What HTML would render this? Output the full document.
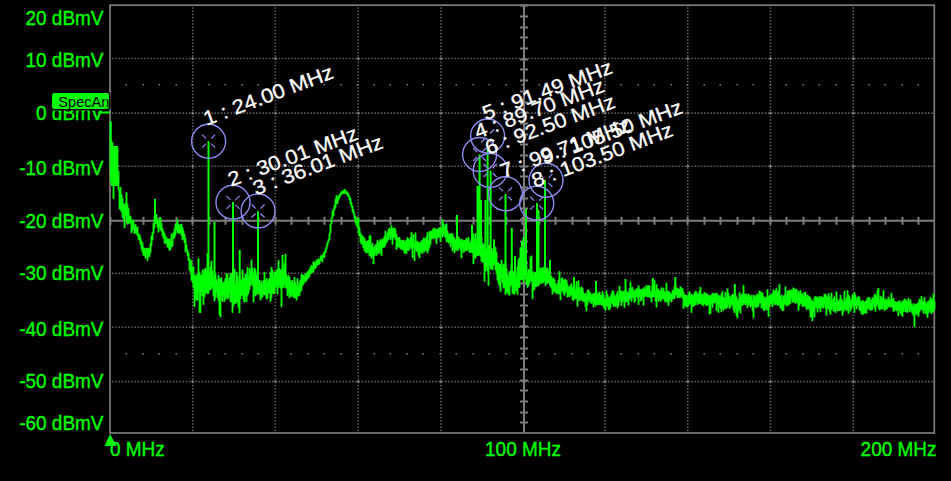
<!DOCTYPE html>
<html><head><meta charset="utf-8"><style>
html,body{margin:0;padding:0;background:#000;width:951px;height:481px;overflow:hidden}
svg{display:block}
text{font-family:"Liberation Sans",sans-serif}
</style></head><body>
<svg width="951" height="481" viewBox="0 0 951 481">
<rect width="951" height="481" fill="#000"/>
<g>
<line x1="192.7" y1="7.2" x2="192.7" y2="432" stroke="#585858" stroke-width="1.6" stroke-dasharray="1.6 1.6"/>
<line x1="275.4" y1="7.2" x2="275.4" y2="432" stroke="#585858" stroke-width="1.6" stroke-dasharray="1.6 1.6"/>
<line x1="358.2" y1="7.2" x2="358.2" y2="432" stroke="#585858" stroke-width="1.6" stroke-dasharray="1.6 1.6"/>
<line x1="440.9" y1="7.2" x2="440.9" y2="432" stroke="#585858" stroke-width="1.6" stroke-dasharray="1.6 1.6"/>
<line x1="604.9" y1="7.2" x2="604.9" y2="432" stroke="#585858" stroke-width="1.6" stroke-dasharray="1.6 1.6"/>
<line x1="687.8" y1="7.2" x2="687.8" y2="432" stroke="#585858" stroke-width="1.6" stroke-dasharray="1.6 1.6"/>
<line x1="770.4" y1="7.2" x2="770.4" y2="432" stroke="#585858" stroke-width="1.6" stroke-dasharray="1.6 1.6"/>
<line x1="853.3" y1="7.2" x2="853.3" y2="432" stroke="#585858" stroke-width="1.6" stroke-dasharray="1.6 1.6"/>
<line x1="112" y1="58.5" x2="933.3" y2="58.5" stroke="#585858" stroke-width="1.6" stroke-dasharray="1.6 1.6"/>
<line x1="112" y1="113.1" x2="933.3" y2="113.1" stroke="#585858" stroke-width="1.6" stroke-dasharray="1.6 1.6"/>
<line x1="112" y1="166.3" x2="933.3" y2="166.3" stroke="#585858" stroke-width="1.6" stroke-dasharray="1.6 1.6"/>
<line x1="112" y1="273.4" x2="933.3" y2="273.4" stroke="#585858" stroke-width="1.6" stroke-dasharray="1.6 1.6"/>
<line x1="112" y1="327.3" x2="933.3" y2="327.3" stroke="#585858" stroke-width="1.6" stroke-dasharray="1.6 1.6"/>
<line x1="112" y1="381.6" x2="933.3" y2="381.6" stroke="#585858" stroke-width="1.6" stroke-dasharray="1.6 1.6"/>
<rect x="191.2" y="58.0" width="3" height="1" fill="#808080"/><rect x="192.2" y="57.0" width="1" height="3" fill="#808080"/>
<rect x="191.2" y="112.6" width="3" height="1" fill="#808080"/><rect x="192.2" y="111.6" width="1" height="3" fill="#808080"/>
<rect x="191.2" y="165.8" width="3" height="1" fill="#808080"/><rect x="192.2" y="164.8" width="1" height="3" fill="#808080"/>
<rect x="191.2" y="272.9" width="3" height="1" fill="#808080"/><rect x="192.2" y="271.9" width="1" height="3" fill="#808080"/>
<rect x="191.2" y="326.8" width="3" height="1" fill="#808080"/><rect x="192.2" y="325.8" width="1" height="3" fill="#808080"/>
<rect x="191.2" y="381.1" width="3" height="1" fill="#808080"/><rect x="192.2" y="380.1" width="1" height="3" fill="#808080"/>
<rect x="191.2" y="220.3" width="3" height="1" fill="#808080"/><rect x="192.2" y="219.3" width="1" height="3" fill="#808080"/>
<rect x="273.9" y="58.0" width="3" height="1" fill="#808080"/><rect x="274.9" y="57.0" width="1" height="3" fill="#808080"/>
<rect x="273.9" y="112.6" width="3" height="1" fill="#808080"/><rect x="274.9" y="111.6" width="1" height="3" fill="#808080"/>
<rect x="273.9" y="165.8" width="3" height="1" fill="#808080"/><rect x="274.9" y="164.8" width="1" height="3" fill="#808080"/>
<rect x="273.9" y="272.9" width="3" height="1" fill="#808080"/><rect x="274.9" y="271.9" width="1" height="3" fill="#808080"/>
<rect x="273.9" y="326.8" width="3" height="1" fill="#808080"/><rect x="274.9" y="325.8" width="1" height="3" fill="#808080"/>
<rect x="273.9" y="381.1" width="3" height="1" fill="#808080"/><rect x="274.9" y="380.1" width="1" height="3" fill="#808080"/>
<rect x="273.9" y="220.3" width="3" height="1" fill="#808080"/><rect x="274.9" y="219.3" width="1" height="3" fill="#808080"/>
<rect x="356.7" y="58.0" width="3" height="1" fill="#808080"/><rect x="357.7" y="57.0" width="1" height="3" fill="#808080"/>
<rect x="356.7" y="112.6" width="3" height="1" fill="#808080"/><rect x="357.7" y="111.6" width="1" height="3" fill="#808080"/>
<rect x="356.7" y="165.8" width="3" height="1" fill="#808080"/><rect x="357.7" y="164.8" width="1" height="3" fill="#808080"/>
<rect x="356.7" y="272.9" width="3" height="1" fill="#808080"/><rect x="357.7" y="271.9" width="1" height="3" fill="#808080"/>
<rect x="356.7" y="326.8" width="3" height="1" fill="#808080"/><rect x="357.7" y="325.8" width="1" height="3" fill="#808080"/>
<rect x="356.7" y="381.1" width="3" height="1" fill="#808080"/><rect x="357.7" y="380.1" width="1" height="3" fill="#808080"/>
<rect x="356.7" y="220.3" width="3" height="1" fill="#808080"/><rect x="357.7" y="219.3" width="1" height="3" fill="#808080"/>
<rect x="439.4" y="58.0" width="3" height="1" fill="#808080"/><rect x="440.4" y="57.0" width="1" height="3" fill="#808080"/>
<rect x="439.4" y="112.6" width="3" height="1" fill="#808080"/><rect x="440.4" y="111.6" width="1" height="3" fill="#808080"/>
<rect x="439.4" y="165.8" width="3" height="1" fill="#808080"/><rect x="440.4" y="164.8" width="1" height="3" fill="#808080"/>
<rect x="439.4" y="272.9" width="3" height="1" fill="#808080"/><rect x="440.4" y="271.9" width="1" height="3" fill="#808080"/>
<rect x="439.4" y="326.8" width="3" height="1" fill="#808080"/><rect x="440.4" y="325.8" width="1" height="3" fill="#808080"/>
<rect x="439.4" y="381.1" width="3" height="1" fill="#808080"/><rect x="440.4" y="380.1" width="1" height="3" fill="#808080"/>
<rect x="439.4" y="220.3" width="3" height="1" fill="#808080"/><rect x="440.4" y="219.3" width="1" height="3" fill="#808080"/>
<rect x="603.4" y="58.0" width="3" height="1" fill="#808080"/><rect x="604.4" y="57.0" width="1" height="3" fill="#808080"/>
<rect x="603.4" y="112.6" width="3" height="1" fill="#808080"/><rect x="604.4" y="111.6" width="1" height="3" fill="#808080"/>
<rect x="603.4" y="165.8" width="3" height="1" fill="#808080"/><rect x="604.4" y="164.8" width="1" height="3" fill="#808080"/>
<rect x="603.4" y="272.9" width="3" height="1" fill="#808080"/><rect x="604.4" y="271.9" width="1" height="3" fill="#808080"/>
<rect x="603.4" y="326.8" width="3" height="1" fill="#808080"/><rect x="604.4" y="325.8" width="1" height="3" fill="#808080"/>
<rect x="603.4" y="381.1" width="3" height="1" fill="#808080"/><rect x="604.4" y="380.1" width="1" height="3" fill="#808080"/>
<rect x="603.4" y="220.3" width="3" height="1" fill="#808080"/><rect x="604.4" y="219.3" width="1" height="3" fill="#808080"/>
<rect x="686.3" y="58.0" width="3" height="1" fill="#808080"/><rect x="687.3" y="57.0" width="1" height="3" fill="#808080"/>
<rect x="686.3" y="112.6" width="3" height="1" fill="#808080"/><rect x="687.3" y="111.6" width="1" height="3" fill="#808080"/>
<rect x="686.3" y="165.8" width="3" height="1" fill="#808080"/><rect x="687.3" y="164.8" width="1" height="3" fill="#808080"/>
<rect x="686.3" y="272.9" width="3" height="1" fill="#808080"/><rect x="687.3" y="271.9" width="1" height="3" fill="#808080"/>
<rect x="686.3" y="326.8" width="3" height="1" fill="#808080"/><rect x="687.3" y="325.8" width="1" height="3" fill="#808080"/>
<rect x="686.3" y="381.1" width="3" height="1" fill="#808080"/><rect x="687.3" y="380.1" width="1" height="3" fill="#808080"/>
<rect x="686.3" y="220.3" width="3" height="1" fill="#808080"/><rect x="687.3" y="219.3" width="1" height="3" fill="#808080"/>
<rect x="768.9" y="58.0" width="3" height="1" fill="#808080"/><rect x="769.9" y="57.0" width="1" height="3" fill="#808080"/>
<rect x="768.9" y="112.6" width="3" height="1" fill="#808080"/><rect x="769.9" y="111.6" width="1" height="3" fill="#808080"/>
<rect x="768.9" y="165.8" width="3" height="1" fill="#808080"/><rect x="769.9" y="164.8" width="1" height="3" fill="#808080"/>
<rect x="768.9" y="272.9" width="3" height="1" fill="#808080"/><rect x="769.9" y="271.9" width="1" height="3" fill="#808080"/>
<rect x="768.9" y="326.8" width="3" height="1" fill="#808080"/><rect x="769.9" y="325.8" width="1" height="3" fill="#808080"/>
<rect x="768.9" y="381.1" width="3" height="1" fill="#808080"/><rect x="769.9" y="380.1" width="1" height="3" fill="#808080"/>
<rect x="768.9" y="220.3" width="3" height="1" fill="#808080"/><rect x="769.9" y="219.3" width="1" height="3" fill="#808080"/>
<rect x="851.8" y="58.0" width="3" height="1" fill="#808080"/><rect x="852.8" y="57.0" width="1" height="3" fill="#808080"/>
<rect x="851.8" y="112.6" width="3" height="1" fill="#808080"/><rect x="852.8" y="111.6" width="1" height="3" fill="#808080"/>
<rect x="851.8" y="165.8" width="3" height="1" fill="#808080"/><rect x="852.8" y="164.8" width="1" height="3" fill="#808080"/>
<rect x="851.8" y="272.9" width="3" height="1" fill="#808080"/><rect x="852.8" y="271.9" width="1" height="3" fill="#808080"/>
<rect x="851.8" y="326.8" width="3" height="1" fill="#808080"/><rect x="852.8" y="325.8" width="1" height="3" fill="#808080"/>
<rect x="851.8" y="381.1" width="3" height="1" fill="#808080"/><rect x="852.8" y="380.1" width="1" height="3" fill="#808080"/>
<rect x="851.8" y="220.3" width="3" height="1" fill="#808080"/><rect x="852.8" y="219.3" width="1" height="3" fill="#808080"/>
<rect x="522.5" y="58.0" width="3" height="1" fill="#808080"/><rect x="523.5" y="57.0" width="1" height="3" fill="#808080"/>
<rect x="522.5" y="112.6" width="3" height="1" fill="#808080"/><rect x="523.5" y="111.6" width="1" height="3" fill="#808080"/>
<rect x="522.5" y="165.8" width="3" height="1" fill="#808080"/><rect x="523.5" y="164.8" width="1" height="3" fill="#808080"/>
<rect x="522.5" y="272.9" width="3" height="1" fill="#808080"/><rect x="523.5" y="271.9" width="1" height="3" fill="#808080"/>
<rect x="522.5" y="326.8" width="3" height="1" fill="#808080"/><rect x="523.5" y="325.8" width="1" height="3" fill="#808080"/>
<rect x="522.5" y="381.1" width="3" height="1" fill="#808080"/><rect x="523.5" y="380.1" width="1" height="3" fill="#808080"/>
<rect x="522.5" y="220.3" width="3" height="1" fill="#808080"/><rect x="523.5" y="219.3" width="1" height="3" fill="#808080"/>
<rect x="125.5" y="84.0" width="1.5" height="1.5" fill="#808080"/>
<rect x="142.5" y="84.0" width="1.5" height="1.5" fill="#808080"/>
<rect x="158.5" y="84.0" width="1.5" height="1.5" fill="#808080"/>
<rect x="175.5" y="84.0" width="1.5" height="1.5" fill="#808080"/>
<rect x="191.5" y="84.0" width="1.5" height="1.5" fill="#808080"/>
<rect x="208.5" y="84.0" width="1.5" height="1.5" fill="#808080"/>
<rect x="224.5" y="84.0" width="1.5" height="1.5" fill="#808080"/>
<rect x="241.5" y="84.0" width="1.5" height="1.5" fill="#808080"/>
<rect x="257.5" y="84.0" width="1.5" height="1.5" fill="#808080"/>
<rect x="274.5" y="84.0" width="1.5" height="1.5" fill="#808080"/>
<rect x="290.5" y="84.0" width="1.5" height="1.5" fill="#808080"/>
<rect x="307.5" y="84.0" width="1.5" height="1.5" fill="#808080"/>
<rect x="323.5" y="84.0" width="1.5" height="1.5" fill="#808080"/>
<rect x="340.5" y="84.0" width="1.5" height="1.5" fill="#808080"/>
<rect x="356.5" y="84.0" width="1.5" height="1.5" fill="#808080"/>
<rect x="373.5" y="84.0" width="1.5" height="1.5" fill="#808080"/>
<rect x="389.5" y="84.0" width="1.5" height="1.5" fill="#808080"/>
<rect x="406.5" y="84.0" width="1.5" height="1.5" fill="#808080"/>
<rect x="422.5" y="84.0" width="1.5" height="1.5" fill="#808080"/>
<rect x="439.5" y="84.0" width="1.5" height="1.5" fill="#808080"/>
<rect x="455.5" y="84.0" width="1.5" height="1.5" fill="#808080"/>
<rect x="472.5" y="84.0" width="1.5" height="1.5" fill="#808080"/>
<rect x="488.5" y="84.0" width="1.5" height="1.5" fill="#808080"/>
<rect x="505.5" y="84.0" width="1.5" height="1.5" fill="#808080"/>
<rect x="521.5" y="84.0" width="1.5" height="1.5" fill="#808080"/>
<rect x="538.5" y="84.0" width="1.5" height="1.5" fill="#808080"/>
<rect x="554.5" y="84.0" width="1.5" height="1.5" fill="#808080"/>
<rect x="571.5" y="84.0" width="1.5" height="1.5" fill="#808080"/>
<rect x="587.5" y="84.0" width="1.5" height="1.5" fill="#808080"/>
<rect x="604.5" y="84.0" width="1.5" height="1.5" fill="#808080"/>
<rect x="620.5" y="84.0" width="1.5" height="1.5" fill="#808080"/>
<rect x="637.5" y="84.0" width="1.5" height="1.5" fill="#808080"/>
<rect x="653.5" y="84.0" width="1.5" height="1.5" fill="#808080"/>
<rect x="670.5" y="84.0" width="1.5" height="1.5" fill="#808080"/>
<rect x="686.5" y="84.0" width="1.5" height="1.5" fill="#808080"/>
<rect x="703.5" y="84.0" width="1.5" height="1.5" fill="#808080"/>
<rect x="719.5" y="84.0" width="1.5" height="1.5" fill="#808080"/>
<rect x="736.5" y="84.0" width="1.5" height="1.5" fill="#808080"/>
<rect x="752.5" y="84.0" width="1.5" height="1.5" fill="#808080"/>
<rect x="769.5" y="84.0" width="1.5" height="1.5" fill="#808080"/>
<rect x="785.5" y="84.0" width="1.5" height="1.5" fill="#808080"/>
<rect x="802.5" y="84.0" width="1.5" height="1.5" fill="#808080"/>
<rect x="818.5" y="84.0" width="1.5" height="1.5" fill="#808080"/>
<rect x="835.5" y="84.0" width="1.5" height="1.5" fill="#808080"/>
<rect x="851.5" y="84.0" width="1.5" height="1.5" fill="#808080"/>
<rect x="868.5" y="84.0" width="1.5" height="1.5" fill="#808080"/>
<rect x="884.5" y="84.0" width="1.5" height="1.5" fill="#808080"/>
<rect x="901.5" y="84.0" width="1.5" height="1.5" fill="#808080"/>
<rect x="917.5" y="84.0" width="1.5" height="1.5" fill="#808080"/>
<rect x="125.5" y="353.0" width="1.5" height="1.5" fill="#808080"/>
<rect x="142.5" y="353.0" width="1.5" height="1.5" fill="#808080"/>
<rect x="158.5" y="353.0" width="1.5" height="1.5" fill="#808080"/>
<rect x="175.5" y="353.0" width="1.5" height="1.5" fill="#808080"/>
<rect x="191.5" y="353.0" width="1.5" height="1.5" fill="#808080"/>
<rect x="208.5" y="353.0" width="1.5" height="1.5" fill="#808080"/>
<rect x="224.5" y="353.0" width="1.5" height="1.5" fill="#808080"/>
<rect x="241.5" y="353.0" width="1.5" height="1.5" fill="#808080"/>
<rect x="257.5" y="353.0" width="1.5" height="1.5" fill="#808080"/>
<rect x="274.5" y="353.0" width="1.5" height="1.5" fill="#808080"/>
<rect x="290.5" y="353.0" width="1.5" height="1.5" fill="#808080"/>
<rect x="307.5" y="353.0" width="1.5" height="1.5" fill="#808080"/>
<rect x="323.5" y="353.0" width="1.5" height="1.5" fill="#808080"/>
<rect x="340.5" y="353.0" width="1.5" height="1.5" fill="#808080"/>
<rect x="356.5" y="353.0" width="1.5" height="1.5" fill="#808080"/>
<rect x="373.5" y="353.0" width="1.5" height="1.5" fill="#808080"/>
<rect x="389.5" y="353.0" width="1.5" height="1.5" fill="#808080"/>
<rect x="406.5" y="353.0" width="1.5" height="1.5" fill="#808080"/>
<rect x="422.5" y="353.0" width="1.5" height="1.5" fill="#808080"/>
<rect x="439.5" y="353.0" width="1.5" height="1.5" fill="#808080"/>
<rect x="455.5" y="353.0" width="1.5" height="1.5" fill="#808080"/>
<rect x="472.5" y="353.0" width="1.5" height="1.5" fill="#808080"/>
<rect x="488.5" y="353.0" width="1.5" height="1.5" fill="#808080"/>
<rect x="505.5" y="353.0" width="1.5" height="1.5" fill="#808080"/>
<rect x="521.5" y="353.0" width="1.5" height="1.5" fill="#808080"/>
<rect x="538.5" y="353.0" width="1.5" height="1.5" fill="#808080"/>
<rect x="554.5" y="353.0" width="1.5" height="1.5" fill="#808080"/>
<rect x="571.5" y="353.0" width="1.5" height="1.5" fill="#808080"/>
<rect x="587.5" y="353.0" width="1.5" height="1.5" fill="#808080"/>
<rect x="604.5" y="353.0" width="1.5" height="1.5" fill="#808080"/>
<rect x="620.5" y="353.0" width="1.5" height="1.5" fill="#808080"/>
<rect x="637.5" y="353.0" width="1.5" height="1.5" fill="#808080"/>
<rect x="653.5" y="353.0" width="1.5" height="1.5" fill="#808080"/>
<rect x="670.5" y="353.0" width="1.5" height="1.5" fill="#808080"/>
<rect x="686.5" y="353.0" width="1.5" height="1.5" fill="#808080"/>
<rect x="703.5" y="353.0" width="1.5" height="1.5" fill="#808080"/>
<rect x="719.5" y="353.0" width="1.5" height="1.5" fill="#808080"/>
<rect x="736.5" y="353.0" width="1.5" height="1.5" fill="#808080"/>
<rect x="752.5" y="353.0" width="1.5" height="1.5" fill="#808080"/>
<rect x="769.5" y="353.0" width="1.5" height="1.5" fill="#808080"/>
<rect x="785.5" y="353.0" width="1.5" height="1.5" fill="#808080"/>
<rect x="802.5" y="353.0" width="1.5" height="1.5" fill="#808080"/>
<rect x="818.5" y="353.0" width="1.5" height="1.5" fill="#808080"/>
<rect x="835.5" y="353.0" width="1.5" height="1.5" fill="#808080"/>
<rect x="851.5" y="353.0" width="1.5" height="1.5" fill="#808080"/>
<rect x="868.5" y="353.0" width="1.5" height="1.5" fill="#808080"/>
<rect x="884.5" y="353.0" width="1.5" height="1.5" fill="#808080"/>
<rect x="901.5" y="353.0" width="1.5" height="1.5" fill="#808080"/>
<rect x="917.5" y="353.0" width="1.5" height="1.5" fill="#808080"/>
<line x1="110" y1="220.8" x2="934.3" y2="220.8" stroke="#7c7c7c" stroke-width="2"/>
<line x1="524" y1="5.2" x2="524" y2="433" stroke="#7c7c7c" stroke-width="2"/>
<line x1="110.5" y1="216.8" x2="110.5" y2="224.8" stroke="#7c7c7c" stroke-width="2"/>
<line x1="126.5" y1="216.8" x2="126.5" y2="224.8" stroke="#7c7c7c" stroke-width="2"/>
<line x1="143.5" y1="216.8" x2="143.5" y2="224.8" stroke="#7c7c7c" stroke-width="2"/>
<line x1="159.5" y1="216.8" x2="159.5" y2="224.8" stroke="#7c7c7c" stroke-width="2"/>
<line x1="176.5" y1="216.8" x2="176.5" y2="224.8" stroke="#7c7c7c" stroke-width="2"/>
<line x1="192.5" y1="216.8" x2="192.5" y2="224.8" stroke="#7c7c7c" stroke-width="2"/>
<line x1="209.5" y1="216.8" x2="209.5" y2="224.8" stroke="#7c7c7c" stroke-width="2"/>
<line x1="225.5" y1="216.8" x2="225.5" y2="224.8" stroke="#7c7c7c" stroke-width="2"/>
<line x1="242.5" y1="216.8" x2="242.5" y2="224.8" stroke="#7c7c7c" stroke-width="2"/>
<line x1="258.5" y1="216.8" x2="258.5" y2="224.8" stroke="#7c7c7c" stroke-width="2"/>
<line x1="275.5" y1="216.8" x2="275.5" y2="224.8" stroke="#7c7c7c" stroke-width="2"/>
<line x1="291.5" y1="216.8" x2="291.5" y2="224.8" stroke="#7c7c7c" stroke-width="2"/>
<line x1="308.5" y1="216.8" x2="308.5" y2="224.8" stroke="#7c7c7c" stroke-width="2"/>
<line x1="324.5" y1="216.8" x2="324.5" y2="224.8" stroke="#7c7c7c" stroke-width="2"/>
<line x1="341.5" y1="216.8" x2="341.5" y2="224.8" stroke="#7c7c7c" stroke-width="2"/>
<line x1="357.5" y1="216.8" x2="357.5" y2="224.8" stroke="#7c7c7c" stroke-width="2"/>
<line x1="374.5" y1="216.8" x2="374.5" y2="224.8" stroke="#7c7c7c" stroke-width="2"/>
<line x1="390.5" y1="216.8" x2="390.5" y2="224.8" stroke="#7c7c7c" stroke-width="2"/>
<line x1="407.5" y1="216.8" x2="407.5" y2="224.8" stroke="#7c7c7c" stroke-width="2"/>
<line x1="423.5" y1="216.8" x2="423.5" y2="224.8" stroke="#7c7c7c" stroke-width="2"/>
<line x1="440.5" y1="216.8" x2="440.5" y2="224.8" stroke="#7c7c7c" stroke-width="2"/>
<line x1="456.5" y1="216.8" x2="456.5" y2="224.8" stroke="#7c7c7c" stroke-width="2"/>
<line x1="473.5" y1="216.8" x2="473.5" y2="224.8" stroke="#7c7c7c" stroke-width="2"/>
<line x1="489.5" y1="216.8" x2="489.5" y2="224.8" stroke="#7c7c7c" stroke-width="2"/>
<line x1="506.5" y1="216.8" x2="506.5" y2="224.8" stroke="#7c7c7c" stroke-width="2"/>
<line x1="522.5" y1="216.8" x2="522.5" y2="224.8" stroke="#7c7c7c" stroke-width="2"/>
<line x1="539.5" y1="216.8" x2="539.5" y2="224.8" stroke="#7c7c7c" stroke-width="2"/>
<line x1="555.5" y1="216.8" x2="555.5" y2="224.8" stroke="#7c7c7c" stroke-width="2"/>
<line x1="572.5" y1="216.8" x2="572.5" y2="224.8" stroke="#7c7c7c" stroke-width="2"/>
<line x1="588.5" y1="216.8" x2="588.5" y2="224.8" stroke="#7c7c7c" stroke-width="2"/>
<line x1="605.5" y1="216.8" x2="605.5" y2="224.8" stroke="#7c7c7c" stroke-width="2"/>
<line x1="621.5" y1="216.8" x2="621.5" y2="224.8" stroke="#7c7c7c" stroke-width="2"/>
<line x1="638.5" y1="216.8" x2="638.5" y2="224.8" stroke="#7c7c7c" stroke-width="2"/>
<line x1="654.5" y1="216.8" x2="654.5" y2="224.8" stroke="#7c7c7c" stroke-width="2"/>
<line x1="671.5" y1="216.8" x2="671.5" y2="224.8" stroke="#7c7c7c" stroke-width="2"/>
<line x1="687.5" y1="216.8" x2="687.5" y2="224.8" stroke="#7c7c7c" stroke-width="2"/>
<line x1="704.5" y1="216.8" x2="704.5" y2="224.8" stroke="#7c7c7c" stroke-width="2"/>
<line x1="720.5" y1="216.8" x2="720.5" y2="224.8" stroke="#7c7c7c" stroke-width="2"/>
<line x1="737.5" y1="216.8" x2="737.5" y2="224.8" stroke="#7c7c7c" stroke-width="2"/>
<line x1="753.5" y1="216.8" x2="753.5" y2="224.8" stroke="#7c7c7c" stroke-width="2"/>
<line x1="770.5" y1="216.8" x2="770.5" y2="224.8" stroke="#7c7c7c" stroke-width="2"/>
<line x1="786.5" y1="216.8" x2="786.5" y2="224.8" stroke="#7c7c7c" stroke-width="2"/>
<line x1="803.5" y1="216.8" x2="803.5" y2="224.8" stroke="#7c7c7c" stroke-width="2"/>
<line x1="819.5" y1="216.8" x2="819.5" y2="224.8" stroke="#7c7c7c" stroke-width="2"/>
<line x1="836.5" y1="216.8" x2="836.5" y2="224.8" stroke="#7c7c7c" stroke-width="2"/>
<line x1="852.5" y1="216.8" x2="852.5" y2="224.8" stroke="#7c7c7c" stroke-width="2"/>
<line x1="869.5" y1="216.8" x2="869.5" y2="224.8" stroke="#7c7c7c" stroke-width="2"/>
<line x1="885.5" y1="216.8" x2="885.5" y2="224.8" stroke="#7c7c7c" stroke-width="2"/>
<line x1="902.5" y1="216.8" x2="902.5" y2="224.8" stroke="#7c7c7c" stroke-width="2"/>
<line x1="918.5" y1="216.8" x2="918.5" y2="224.8" stroke="#7c7c7c" stroke-width="2"/>
<line x1="520" y1="5.5" x2="528" y2="5.5" stroke="#7c7c7c" stroke-width="2"/>
<line x1="520" y1="16.5" x2="528" y2="16.5" stroke="#7c7c7c" stroke-width="2"/>
<line x1="520" y1="27.5" x2="528" y2="27.5" stroke="#7c7c7c" stroke-width="2"/>
<line x1="520" y1="37.5" x2="528" y2="37.5" stroke="#7c7c7c" stroke-width="2"/>
<line x1="520" y1="48.5" x2="528" y2="48.5" stroke="#7c7c7c" stroke-width="2"/>
<line x1="520" y1="59.5" x2="528" y2="59.5" stroke="#7c7c7c" stroke-width="2"/>
<line x1="520" y1="69.5" x2="528" y2="69.5" stroke="#7c7c7c" stroke-width="2"/>
<line x1="520" y1="80.5" x2="528" y2="80.5" stroke="#7c7c7c" stroke-width="2"/>
<line x1="520" y1="91.5" x2="528" y2="91.5" stroke="#7c7c7c" stroke-width="2"/>
<line x1="520" y1="102.5" x2="528" y2="102.5" stroke="#7c7c7c" stroke-width="2"/>
<line x1="520" y1="112.5" x2="528" y2="112.5" stroke="#7c7c7c" stroke-width="2"/>
<line x1="520" y1="123.5" x2="528" y2="123.5" stroke="#7c7c7c" stroke-width="2"/>
<line x1="520" y1="134.5" x2="528" y2="134.5" stroke="#7c7c7c" stroke-width="2"/>
<line x1="520" y1="144.5" x2="528" y2="144.5" stroke="#7c7c7c" stroke-width="2"/>
<line x1="520" y1="155.5" x2="528" y2="155.5" stroke="#7c7c7c" stroke-width="2"/>
<line x1="520" y1="166.5" x2="528" y2="166.5" stroke="#7c7c7c" stroke-width="2"/>
<line x1="520" y1="176.5" x2="528" y2="176.5" stroke="#7c7c7c" stroke-width="2"/>
<line x1="520" y1="187.5" x2="528" y2="187.5" stroke="#7c7c7c" stroke-width="2"/>
<line x1="520" y1="198.5" x2="528" y2="198.5" stroke="#7c7c7c" stroke-width="2"/>
<line x1="520" y1="208.5" x2="528" y2="208.5" stroke="#7c7c7c" stroke-width="2"/>
<line x1="520" y1="219.5" x2="528" y2="219.5" stroke="#7c7c7c" stroke-width="2"/>
<line x1="520" y1="230.5" x2="528" y2="230.5" stroke="#7c7c7c" stroke-width="2"/>
<line x1="520" y1="241.5" x2="528" y2="241.5" stroke="#7c7c7c" stroke-width="2"/>
<line x1="520" y1="251.5" x2="528" y2="251.5" stroke="#7c7c7c" stroke-width="2"/>
<line x1="520" y1="262.5" x2="528" y2="262.5" stroke="#7c7c7c" stroke-width="2"/>
<line x1="520" y1="273.5" x2="528" y2="273.5" stroke="#7c7c7c" stroke-width="2"/>
<line x1="520" y1="283.5" x2="528" y2="283.5" stroke="#7c7c7c" stroke-width="2"/>
<line x1="520" y1="294.5" x2="528" y2="294.5" stroke="#7c7c7c" stroke-width="2"/>
<line x1="520" y1="305.5" x2="528" y2="305.5" stroke="#7c7c7c" stroke-width="2"/>
<line x1="520" y1="315.5" x2="528" y2="315.5" stroke="#7c7c7c" stroke-width="2"/>
<line x1="520" y1="326.5" x2="528" y2="326.5" stroke="#7c7c7c" stroke-width="2"/>
<line x1="520" y1="337.5" x2="528" y2="337.5" stroke="#7c7c7c" stroke-width="2"/>
<line x1="520" y1="348.5" x2="528" y2="348.5" stroke="#7c7c7c" stroke-width="2"/>
<line x1="520" y1="358.5" x2="528" y2="358.5" stroke="#7c7c7c" stroke-width="2"/>
<line x1="520" y1="369.5" x2="528" y2="369.5" stroke="#7c7c7c" stroke-width="2"/>
<line x1="520" y1="380.5" x2="528" y2="380.5" stroke="#7c7c7c" stroke-width="2"/>
<line x1="520" y1="390.5" x2="528" y2="390.5" stroke="#7c7c7c" stroke-width="2"/>
<line x1="520" y1="401.5" x2="528" y2="401.5" stroke="#7c7c7c" stroke-width="2"/>
<line x1="520" y1="412.5" x2="528" y2="412.5" stroke="#7c7c7c" stroke-width="2"/>
<line x1="520" y1="422.5" x2="528" y2="422.5" stroke="#7c7c7c" stroke-width="2"/>
<rect x="110" y="5.2" width="824.3" height="427.8" fill="none" stroke="#7c7c7c" stroke-width="1.7"/>
</g>
<g font-size="20.3" fill="#00ff00" stroke="#00ff00" stroke-width="0.35">
<text transform="translate(103.5,25) scale(0.935,1)" text-anchor="end">20 dBmV</text>
<text transform="translate(103.5,67) scale(0.935,1)" text-anchor="end">10 dBmV</text>
<text transform="translate(103.5,120) scale(0.935,1)" text-anchor="end">0 dBmV</text>
<text transform="translate(103.5,174.7) scale(0.935,1)" text-anchor="end">-10 dBmV</text>
<text transform="translate(103.5,228) scale(0.935,1)" text-anchor="end">-20 dBmV</text>
<text transform="translate(103.5,280.4) scale(0.935,1)" text-anchor="end">-30 dBmV</text>
<text transform="translate(103.5,336) scale(0.935,1)" text-anchor="end">-40 dBmV</text>
<text transform="translate(103.5,388) scale(0.935,1)" text-anchor="end">-50 dBmV</text>
<text transform="translate(103.5,430) scale(0.935,1)" text-anchor="end">-60 dBmV</text>
<text transform="translate(110,455.6) scale(0.935,1)">0 MHz</text><text transform="translate(523,455.8) scale(0.935,1)" text-anchor="middle">100 MHz</text><text transform="translate(936.5,455.8) scale(0.935,1)" text-anchor="end">200 MHz</text>
</g>
<path d="M110,434 L104.5,446 L116.5,446 Z" fill="#00ff00"/>
<rect x="51.3" y="92.2" width="58.5" height="17.5" rx="3" fill="#00ff00" stroke="#000" stroke-width="1.5"/>
<text x="58.3" y="106.5" font-size="14.6" fill="#000">SpecAn</text>
<line x1="98" y1="112.5" x2="110" y2="112.5" stroke="#00ff00" stroke-width="2"/>
<path d="M109.9 122.7h1.2V170.7h-1.2ZM110.9 140.4h1.2V171.0h-1.2ZM111.9 142.9h1.2V168.9h-1.2ZM112.9 152.8h1.2V198.7h-1.2ZM113.9 155.9h1.2V173.7h-1.2ZM114.9 149.7h1.2V176.1h-1.2ZM115.9 152.1h1.2V168.8h-1.2ZM116.9 148.1h1.2V171.2h-1.2ZM117.9 171.2h1.2V189.7h-1.2ZM118.9 189.7h1.2V208.7h-1.2ZM119.9 187.2h1.2V210.1h-1.2ZM120.9 194.3h1.2V211.7h-1.2ZM121.9 198.5h1.2V217.3h-1.2ZM122.9 203.2h1.2V218.4h-1.2ZM123.9 204.8h1.2V227.9h-1.2ZM124.9 203.8h1.2V215.1h-1.2ZM125.9 192.5h1.2V219.5h-1.2ZM126.9 204.3h1.2V223.4h-1.2ZM127.9 208.4h1.2V224.0h-1.2ZM128.9 215.2h1.2V222.6h-1.2ZM129.9 216.5h1.2V223.2h-1.2ZM130.9 219.1h1.2V232.8h-1.2ZM131.9 221.2h1.2V230.4h-1.2ZM132.9 220.2h1.2V229.0h-1.2ZM133.9 226.0h1.2V233.7h-1.2ZM134.9 224.3h1.2V233.0h-1.2ZM135.9 227.8h1.2V233.6h-1.2ZM136.9 226.7h1.2V235.8h-1.2ZM137.9 234.2h1.2V239.2h-1.2ZM138.9 234.2h1.2V240.3h-1.2ZM139.9 237.4h1.2V244.5h-1.2ZM140.9 240.9h1.2V249.0h-1.2ZM141.9 242.6h1.2V252.3h-1.2ZM142.9 247.4h1.2V255.4h-1.2ZM143.9 248.4h1.2V255.5h-1.2ZM144.9 248.3h1.2V258.3h-1.2ZM145.9 248.8h1.2V254.3h-1.2ZM146.9 248.3h1.2V260.7h-1.2ZM147.9 247.9h1.2V256.7h-1.2ZM148.9 249.1h1.2V256.7h-1.2ZM149.9 243.2h1.2V252.6h-1.2ZM150.9 235.9h1.2V245.7h-1.2ZM151.9 232.2h1.2V240.1h-1.2ZM152.9 223.3h1.2V233.3h-1.2ZM153.9 217.3h1.2V227.9h-1.2ZM154.9 216.3h1.2V223.9h-1.2ZM155.9 214.5h1.2V222.9h-1.2ZM156.9 218.8h1.2V227.0h-1.2ZM157.9 221.1h1.2V232.3h-1.2ZM158.9 219.9h1.2V227.7h-1.2ZM159.9 217.5h1.2V229.9h-1.2ZM160.9 223.1h1.2V231.2h-1.2ZM161.9 228.2h1.2V235.6h-1.2ZM162.9 231.3h1.2V238.6h-1.2ZM163.9 233.2h1.2V242.9h-1.2ZM164.9 236.3h1.2V243.6h-1.2ZM165.9 237.2h1.2V242.6h-1.2ZM166.9 239.5h1.2V247.0h-1.2ZM167.9 238.8h1.2V247.7h-1.2ZM168.9 238.9h1.2V250.6h-1.2ZM169.9 241.6h1.2V249.2h-1.2ZM170.9 233.8h1.2V247.0h-1.2ZM171.9 237.1h1.2V246.2h-1.2ZM172.9 232.5h1.2V238.7h-1.2ZM173.9 228.5h1.2V237.8h-1.2ZM174.9 223.9h1.2V235.0h-1.2ZM175.9 224.3h1.2V230.3h-1.2ZM176.9 219.7h1.2V232.7h-1.2ZM177.9 224.0h1.2V232.9h-1.2ZM178.9 225.4h1.2V233.5h-1.2ZM179.9 224.9h1.2V232.8h-1.2ZM180.9 224.1h1.2V235.5h-1.2ZM181.9 227.4h1.2V239.8h-1.2ZM182.9 230.8h1.2V239.0h-1.2ZM183.9 234.2h1.2V242.4h-1.2ZM184.9 238.4h1.2V252.1h-1.2ZM185.9 244.4h1.2V249.5h-1.2ZM186.9 249.5h1.2V255.5h-1.2ZM187.9 252.9h1.2V260.4h-1.2ZM188.9 258.7h1.2V269.9h-1.2ZM189.9 260.3h1.2V271.8h-1.2ZM190.9 260.7h1.2V280.2h-1.2ZM191.9 267.7h1.2V282.3h-1.2ZM192.9 266.7h1.2V287.6h-1.2ZM193.9 275.3h1.2V306.7h-1.2ZM194.9 275.6h1.2V297.8h-1.2ZM195.9 276.9h1.2V300.3h-1.2ZM196.9 274.0h1.2V300.2h-1.2ZM197.9 258.4h1.2V292.3h-1.2ZM198.9 271.9h1.2V312.4h-1.2ZM199.9 275.0h1.2V312.4h-1.2ZM200.9 275.6h1.2V291.8h-1.2ZM201.9 269.8h1.2V295.9h-1.2ZM202.9 272.7h1.2V304.6h-1.2ZM203.9 269.6h1.2V297.3h-1.2ZM204.9 268.0h1.2V293.4h-1.2ZM205.9 270.8h1.2V292.1h-1.2ZM206.9 253.3h1.2V293.7h-1.2ZM207.9 274.4h1.2V293.4h-1.2ZM208.9 270.9h1.2V289.8h-1.2ZM209.9 266.4h1.2V290.0h-1.2ZM210.9 261.0h1.2V288.4h-1.2ZM211.9 270.7h1.2V286.5h-1.2ZM212.9 277.5h1.2V295.6h-1.2ZM213.9 276.5h1.2V301.1h-1.2ZM214.9 273.7h1.2V297.6h-1.2ZM215.9 279.4h1.2V292.2h-1.2ZM216.9 282.0h1.2V297.4h-1.2ZM217.9 275.3h1.2V300.6h-1.2ZM218.9 278.7h1.2V314.7h-1.2ZM219.9 279.0h1.2V317.0h-1.2ZM220.9 277.4h1.2V295.1h-1.2ZM221.9 283.1h1.2V301.5h-1.2ZM222.9 282.3h1.2V296.3h-1.2ZM223.9 281.5h1.2V301.5h-1.2ZM224.9 278.4h1.2V298.7h-1.2ZM225.9 273.8h1.2V296.2h-1.2ZM226.9 273.9h1.2V299.3h-1.2ZM227.9 281.3h1.2V297.6h-1.2ZM228.9 277.7h1.2V293.1h-1.2ZM229.9 273.3h1.2V301.7h-1.2ZM230.9 273.7h1.2V302.2h-1.2ZM231.9 281.1h1.2V312.5h-1.2ZM232.9 281.1h1.2V305.4h-1.2ZM233.9 269.1h1.2V303.5h-1.2ZM234.9 284.3h1.2V303.7h-1.2ZM235.9 272.0h1.2V301.6h-1.2ZM236.9 275.9h1.2V302.6h-1.2ZM237.9 283.1h1.2V307.6h-1.2ZM238.9 276.2h1.2V312.9h-1.2ZM239.9 280.7h1.2V298.7h-1.2ZM240.9 279.8h1.2V295.4h-1.2ZM241.9 269.7h1.2V295.0h-1.2ZM242.9 277.5h1.2V299.6h-1.2ZM243.9 278.9h1.2V302.2h-1.2ZM244.9 274.1h1.2V296.1h-1.2ZM245.9 274.3h1.2V301.9h-1.2ZM246.9 267.4h1.2V295.2h-1.2ZM247.9 276.1h1.2V293.4h-1.2ZM248.9 268.3h1.2V289.9h-1.2ZM249.9 270.8h1.2V286.1h-1.2ZM250.9 259.8h1.2V282.5h-1.2ZM251.9 268.3h1.2V285.2h-1.2ZM252.9 274.6h1.2V302.2h-1.2ZM253.9 267.7h1.2V292.2h-1.2ZM254.9 269.9h1.2V296.0h-1.2ZM255.9 275.0h1.2V294.0h-1.2ZM256.9 277.0h1.2V294.2h-1.2ZM257.9 280.0h1.2V292.9h-1.2ZM258.9 280.1h1.2V294.9h-1.2ZM259.9 283.4h1.2V300.1h-1.2ZM260.9 281.1h1.2V297.5h-1.2ZM261.9 285.2h1.2V297.2h-1.2ZM262.9 280.6h1.2V294.7h-1.2ZM263.9 272.1h1.2V294.8h-1.2ZM264.9 280.2h1.2V294.9h-1.2ZM265.9 278.3h1.2V299.0h-1.2ZM266.9 282.6h1.2V298.5h-1.2ZM267.9 279.2h1.2V292.7h-1.2ZM268.9 278.4h1.2V293.3h-1.2ZM269.9 272.4h1.2V301.5h-1.2ZM270.9 267.4h1.2V297.4h-1.2ZM271.9 270.2h1.2V292.7h-1.2ZM272.9 277.0h1.2V293.9h-1.2ZM273.9 271.9h1.2V293.4h-1.2ZM274.9 271.8h1.2V287.7h-1.2ZM275.9 271.3h1.2V286.2h-1.2ZM276.9 269.0h1.2V294.2h-1.2ZM277.9 260.4h1.2V288.0h-1.2ZM278.9 268.8h1.2V285.7h-1.2ZM279.9 269.8h1.2V288.2h-1.2ZM280.9 270.7h1.2V306.9h-1.2ZM281.9 266.1h1.2V288.0h-1.2ZM282.9 270.4h1.2V287.1h-1.2ZM283.9 263.2h1.2V283.3h-1.2ZM284.9 254.2h1.2V287.9h-1.2ZM285.9 274.5h1.2V288.4h-1.2ZM286.9 277.7h1.2V295.8h-1.2ZM287.9 275.6h1.2V292.9h-1.2ZM288.9 276.9h1.2V297.9h-1.2ZM289.9 280.5h1.2V295.7h-1.2ZM290.9 282.0h1.2V296.6h-1.2ZM291.9 280.5h1.2V294.5h-1.2ZM292.9 284.8h1.2V297.1h-1.2ZM293.9 277.2h1.2V297.9h-1.2ZM294.9 282.5h1.2V297.8h-1.2ZM295.9 285.9h1.2V300.3h-1.2ZM296.9 278.5h1.2V296.6h-1.2ZM297.9 286.7h1.2V295.8h-1.2ZM298.9 282.0h1.2V295.8h-1.2ZM299.9 279.9h1.2V291.6h-1.2ZM300.9 274.3h1.2V290.5h-1.2ZM301.9 275.8h1.2V285.5h-1.2ZM302.9 275.1h1.2V284.2h-1.2ZM303.9 276.5h1.2V282.3h-1.2ZM304.9 273.6h1.2V281.6h-1.2ZM305.9 273.4h1.2V280.8h-1.2ZM306.9 271.8h1.2V279.0h-1.2ZM307.9 270.7h1.2V277.8h-1.2ZM308.9 269.3h1.2V276.6h-1.2ZM309.9 266.8h1.2V273.5h-1.2ZM310.9 265.3h1.2V272.8h-1.2ZM311.9 266.5h1.2V272.5h-1.2ZM312.9 261.6h1.2V271.8h-1.2ZM313.9 262.6h1.2V268.7h-1.2ZM314.9 262.7h1.2V268.4h-1.2ZM315.9 259.9h1.2V266.4h-1.2ZM316.9 260.0h1.2V264.6h-1.2ZM317.9 258.8h1.2V264.8h-1.2ZM318.9 259.8h1.2V264.0h-1.2ZM319.9 256.2h1.2V260.7h-1.2ZM320.9 255.4h1.2V259.7h-1.2ZM321.9 254.9h1.2V262.1h-1.2ZM322.9 253.2h1.2V257.0h-1.2ZM323.9 251.7h1.2V257.4h-1.2ZM324.9 248.9h1.2V253.0h-1.2ZM325.9 245.8h1.2V249.4h-1.2ZM326.9 242.2h1.2V245.9h-1.2ZM327.9 239.5h1.2V242.3h-1.2ZM328.9 233.2h1.2V239.5h-1.2ZM329.9 224.2h1.2V233.2h-1.2ZM330.9 218.0h1.2V224.2h-1.2ZM331.9 211.3h1.2V218.0h-1.2ZM332.9 209.3h1.2V215.7h-1.2ZM333.9 205.1h1.2V209.9h-1.2ZM334.9 199.3h1.2V207.2h-1.2ZM335.9 195.4h1.2V203.9h-1.2ZM336.9 197.9h1.2V203.7h-1.2ZM337.9 196.1h1.2V200.3h-1.2ZM338.9 194.6h1.2V197.8h-1.2ZM339.9 193.2h1.2V195.5h-1.2ZM340.9 191.4h1.2V194.6h-1.2ZM341.9 191.3h1.2V193.5h-1.2ZM342.9 190.5h1.2V193.6h-1.2ZM343.9 189.1h1.2V192.8h-1.2ZM344.9 191.7h1.2V194.0h-1.2ZM345.9 190.9h1.2V193.6h-1.2ZM346.9 192.8h1.2V195.3h-1.2ZM347.9 193.7h1.2V196.8h-1.2ZM348.9 196.1h1.2V199.9h-1.2ZM349.9 198.2h1.2V203.9h-1.2ZM350.9 202.5h1.2V207.0h-1.2ZM351.9 206.1h1.2V211.5h-1.2ZM352.9 209.8h1.2V214.0h-1.2ZM353.9 214.0h1.2V219.2h-1.2ZM354.9 216.4h1.2V222.7h-1.2ZM355.9 218.6h1.2V225.4h-1.2ZM356.9 222.2h1.2V227.5h-1.2ZM357.9 217.8h1.2V233.4h-1.2ZM358.9 227.7h1.2V236.0h-1.2ZM359.9 233.0h1.2V242.1h-1.2ZM360.9 235.0h1.2V244.2h-1.2ZM361.9 235.8h1.2V245.0h-1.2ZM362.9 237.0h1.2V247.8h-1.2ZM363.9 238.2h1.2V250.8h-1.2ZM364.9 241.2h1.2V252.1h-1.2ZM365.9 241.4h1.2V253.2h-1.2ZM366.9 241.1h1.2V251.9h-1.2ZM367.9 240.5h1.2V252.3h-1.2ZM368.9 235.9h1.2V256.0h-1.2ZM369.9 235.6h1.2V256.1h-1.2ZM370.9 245.9h1.2V258.3h-1.2ZM371.9 243.2h1.2V255.6h-1.2ZM372.9 247.8h1.2V264.0h-1.2ZM373.9 247.1h1.2V255.8h-1.2ZM374.9 244.7h1.2V253.6h-1.2ZM375.9 244.7h1.2V255.6h-1.2ZM376.9 240.2h1.2V253.2h-1.2ZM377.9 242.7h1.2V253.8h-1.2ZM378.9 241.5h1.2V252.9h-1.2ZM379.9 239.3h1.2V250.0h-1.2ZM380.9 240.8h1.2V255.7h-1.2ZM381.9 239.6h1.2V247.2h-1.2ZM382.9 238.6h1.2V247.5h-1.2ZM383.9 236.2h1.2V247.0h-1.2ZM384.9 231.1h1.2V244.9h-1.2ZM385.9 236.9h1.2V242.5h-1.2ZM386.9 232.8h1.2V241.1h-1.2ZM387.9 229.5h1.2V239.0h-1.2ZM388.9 228.0h1.2V236.6h-1.2ZM389.9 230.2h1.2V239.9h-1.2ZM390.9 225.6h1.2V237.5h-1.2ZM391.9 228.8h1.2V244.5h-1.2ZM392.9 228.4h1.2V238.1h-1.2ZM393.9 227.8h1.2V236.9h-1.2ZM394.9 229.5h1.2V239.5h-1.2ZM395.9 234.3h1.2V249.4h-1.2ZM396.9 237.6h1.2V247.3h-1.2ZM397.9 237.4h1.2V246.4h-1.2ZM398.9 237.6h1.2V247.3h-1.2ZM399.9 239.9h1.2V248.5h-1.2ZM400.9 241.2h1.2V249.4h-1.2ZM401.9 240.2h1.2V249.2h-1.2ZM402.9 240.1h1.2V250.6h-1.2ZM403.9 241.4h1.2V253.2h-1.2ZM404.9 241.9h1.2V253.3h-1.2ZM405.9 240.1h1.2V253.8h-1.2ZM406.9 237.5h1.2V250.3h-1.2ZM407.9 239.1h1.2V250.6h-1.2ZM408.9 240.6h1.2V249.6h-1.2ZM409.9 237.6h1.2V246.1h-1.2ZM410.9 232.4h1.2V248.5h-1.2ZM411.9 239.1h1.2V257.4h-1.2ZM412.9 234.5h1.2V248.0h-1.2ZM413.9 243.9h1.2V260.8h-1.2ZM414.9 232.8h1.2V249.9h-1.2ZM415.9 242.0h1.2V251.3h-1.2ZM416.9 241.0h1.2V251.8h-1.2ZM417.9 242.5h1.2V255.2h-1.2ZM418.9 243.3h1.2V257.9h-1.2ZM419.9 242.5h1.2V253.0h-1.2ZM420.9 240.8h1.2V251.9h-1.2ZM421.9 240.6h1.2V253.6h-1.2ZM422.9 238.1h1.2V250.9h-1.2ZM423.9 238.5h1.2V251.8h-1.2ZM424.9 238.4h1.2V249.5h-1.2ZM425.9 236.6h1.2V250.7h-1.2ZM426.9 232.4h1.2V253.1h-1.2ZM427.9 240.9h1.2V250.2h-1.2ZM428.9 231.3h1.2V247.5h-1.2ZM429.9 232.6h1.2V244.5h-1.2ZM430.9 231.0h1.2V238.9h-1.2ZM431.9 230.3h1.2V237.7h-1.2ZM432.9 228.4h1.2V239.1h-1.2ZM433.9 228.1h1.2V236.3h-1.2ZM434.9 229.6h1.2V238.3h-1.2ZM435.9 229.1h1.2V243.8h-1.2ZM436.9 229.8h1.2V237.9h-1.2ZM437.9 228.2h1.2V237.2h-1.2ZM438.9 227.8h1.2V236.9h-1.2ZM439.9 227.0h1.2V241.6h-1.2ZM440.9 228.2h1.2V234.1h-1.2ZM441.9 219.7h1.2V237.1h-1.2ZM442.9 223.7h1.2V233.4h-1.2ZM443.9 226.9h1.2V236.0h-1.2ZM444.9 224.7h1.2V237.7h-1.2ZM445.9 223.8h1.2V242.0h-1.2ZM446.9 231.0h1.2V240.1h-1.2ZM447.9 234.2h1.2V243.1h-1.2ZM448.9 234.0h1.2V241.5h-1.2ZM449.9 233.6h1.2V246.7h-1.2ZM450.9 234.1h1.2V243.1h-1.2ZM451.9 233.6h1.2V250.9h-1.2ZM452.9 236.9h1.2V246.7h-1.2ZM453.9 237.6h1.2V252.9h-1.2ZM454.9 240.5h1.2V250.3h-1.2ZM455.9 239.3h1.2V249.6h-1.2ZM456.9 240.1h1.2V251.0h-1.2ZM457.9 236.7h1.2V249.1h-1.2ZM458.9 239.2h1.2V247.3h-1.2ZM459.9 239.8h1.2V250.3h-1.2ZM460.9 239.1h1.2V257.9h-1.2ZM461.9 241.8h1.2V248.9h-1.2ZM462.9 240.0h1.2V252.4h-1.2ZM463.9 240.5h1.2V251.4h-1.2ZM464.9 240.2h1.2V250.0h-1.2ZM465.9 238.1h1.2V250.4h-1.2ZM466.9 240.7h1.2V250.6h-1.2ZM467.9 237.3h1.2V248.4h-1.2ZM468.9 242.4h1.2V252.5h-1.2ZM469.9 242.3h1.2V252.6h-1.2ZM470.9 239.3h1.2V249.1h-1.2ZM471.9 239.2h1.2V253.0h-1.2ZM472.9 233.7h1.2V263.9h-1.2ZM473.9 239.7h1.2V256.7h-1.2ZM474.9 233.5h1.2V258.4h-1.2ZM475.9 243.5h1.2V255.2h-1.2ZM476.9 236.3h1.2V255.8h-1.2ZM477.9 227.5h1.2V255.4h-1.2ZM478.9 238.8h1.2V253.3h-1.2ZM479.9 237.1h1.2V256.4h-1.2ZM480.9 236.1h1.2V261.4h-1.2ZM481.9 243.2h1.2V262.3h-1.2ZM482.9 245.3h1.2V262.0h-1.2ZM483.9 244.1h1.2V281.4h-1.2ZM484.9 249.0h1.2V271.1h-1.2ZM485.9 251.0h1.2V268.5h-1.2ZM486.9 249.7h1.2V271.3h-1.2ZM487.9 245.9h1.2V285.5h-1.2ZM488.9 245.1h1.2V265.4h-1.2ZM489.9 250.2h1.2V269.1h-1.2ZM490.9 248.1h1.2V268.5h-1.2ZM491.9 251.2h1.2V270.1h-1.2ZM492.9 250.9h1.2V265.6h-1.2ZM493.9 248.4h1.2V263.6h-1.2ZM494.9 247.3h1.2V269.8h-1.2ZM495.9 252.3h1.2V273.9h-1.2ZM496.9 262.7h1.2V280.2h-1.2ZM497.9 263.1h1.2V283.8h-1.2ZM498.9 264.7h1.2V285.7h-1.2ZM499.9 264.4h1.2V291.6h-1.2ZM500.9 260.1h1.2V278.0h-1.2ZM501.9 267.6h1.2V282.9h-1.2ZM502.9 264.1h1.2V288.1h-1.2ZM503.9 267.2h1.2V288.0h-1.2ZM504.9 261.7h1.2V294.5h-1.2ZM505.9 268.7h1.2V291.8h-1.2ZM506.9 274.1h1.2V293.1h-1.2ZM507.9 277.5h1.2V294.2h-1.2ZM508.9 271.4h1.2V295.2h-1.2ZM509.9 271.7h1.2V286.6h-1.2ZM510.9 263.5h1.2V284.4h-1.2ZM511.9 273.2h1.2V293.5h-1.2ZM512.9 271.3h1.2V293.5h-1.2ZM513.9 275.1h1.2V294.4h-1.2ZM514.9 272.4h1.2V291.1h-1.2ZM515.9 275.8h1.2V290.9h-1.2ZM516.9 266.6h1.2V294.4h-1.2ZM517.9 259.2h1.2V287.0h-1.2ZM518.9 258.1h1.2V287.5h-1.2ZM519.9 247.5h1.2V279.8h-1.2ZM520.9 257.4h1.2V279.4h-1.2ZM521.9 259.7h1.2V279.5h-1.2ZM522.9 237.1h1.2V282.3h-1.2ZM523.9 250.5h1.2V273.7h-1.2ZM524.9 257.1h1.2V279.2h-1.2ZM525.9 265.5h1.2V284.2h-1.2ZM526.9 273.5h1.2V287.5h-1.2ZM527.9 269.4h1.2V285.9h-1.2ZM528.9 270.1h1.2V283.5h-1.2ZM529.9 257.3h1.2V280.6h-1.2ZM530.9 255.8h1.2V281.2h-1.2ZM531.9 271.6h1.2V298.8h-1.2ZM532.9 275.0h1.2V290.8h-1.2ZM533.9 271.9h1.2V289.1h-1.2ZM534.9 272.5h1.2V286.7h-1.2ZM535.9 271.9h1.2V286.7h-1.2ZM536.9 268.9h1.2V285.0h-1.2ZM537.9 268.9h1.2V286.1h-1.2ZM538.9 272.9h1.2V284.2h-1.2ZM539.9 267.8h1.2V282.4h-1.2ZM540.9 268.2h1.2V283.4h-1.2ZM541.9 268.3h1.2V282.7h-1.2ZM542.9 267.2h1.2V282.7h-1.2ZM543.9 268.9h1.2V281.1h-1.2ZM544.9 271.5h1.2V285.8h-1.2ZM545.9 268.3h1.2V282.8h-1.2ZM546.9 267.9h1.2V283.3h-1.2ZM547.9 270.8h1.2V282.1h-1.2ZM548.9 271.7h1.2V284.0h-1.2ZM549.9 277.0h1.2V286.6h-1.2ZM550.9 276.2h1.2V288.3h-1.2ZM551.9 279.1h1.2V294.3h-1.2ZM552.9 278.1h1.2V291.6h-1.2ZM553.9 279.8h1.2V291.5h-1.2ZM554.9 283.6h1.2V292.3h-1.2ZM555.9 285.9h1.2V293.7h-1.2ZM556.9 283.5h1.2V293.0h-1.2ZM557.9 280.0h1.2V294.3h-1.2ZM558.9 271.4h1.2V293.6h-1.2ZM559.9 283.6h1.2V300.0h-1.2ZM560.9 278.5h1.2V291.1h-1.2ZM561.9 277.7h1.2V290.8h-1.2ZM562.9 280.6h1.2V293.6h-1.2ZM563.9 279.7h1.2V295.4h-1.2ZM564.9 279.4h1.2V292.6h-1.2ZM565.9 280.6h1.2V291.5h-1.2ZM566.9 284.0h1.2V297.3h-1.2ZM567.9 287.1h1.2V295.3h-1.2ZM568.9 287.0h1.2V296.9h-1.2ZM569.9 285.2h1.2V295.6h-1.2ZM570.9 283.7h1.2V294.5h-1.2ZM571.9 287.6h1.2V299.6h-1.2ZM572.9 289.1h1.2V300.7h-1.2ZM573.9 285.0h1.2V297.9h-1.2ZM574.9 290.2h1.2V299.0h-1.2ZM575.9 281.6h1.2V298.5h-1.2ZM576.9 287.2h1.2V306.3h-1.2ZM577.9 280.8h1.2V299.2h-1.2ZM578.9 287.7h1.2V300.8h-1.2ZM579.9 290.2h1.2V300.0h-1.2ZM580.9 286.8h1.2V299.4h-1.2ZM581.9 288.0h1.2V301.1h-1.2ZM582.9 292.1h1.2V301.5h-1.2ZM583.9 294.1h1.2V301.8h-1.2ZM584.9 293.6h1.2V306.8h-1.2ZM585.9 295.5h1.2V311.0h-1.2ZM586.9 290.2h1.2V304.8h-1.2ZM587.9 289.8h1.2V299.3h-1.2ZM588.9 292.6h1.2V302.1h-1.2ZM589.9 292.6h1.2V302.3h-1.2ZM590.9 295.3h1.2V303.7h-1.2ZM591.9 294.2h1.2V301.8h-1.2ZM592.9 293.3h1.2V307.2h-1.2ZM593.9 293.8h1.2V303.9h-1.2ZM594.9 293.4h1.2V306.3h-1.2ZM595.9 289.9h1.2V304.8h-1.2ZM596.9 294.7h1.2V304.2h-1.2ZM597.9 293.7h1.2V304.8h-1.2ZM598.9 292.1h1.2V304.6h-1.2ZM599.9 295.2h1.2V304.3h-1.2ZM600.9 295.3h1.2V305.1h-1.2ZM601.9 291.4h1.2V305.1h-1.2ZM602.9 294.4h1.2V307.0h-1.2ZM603.9 298.2h1.2V308.5h-1.2ZM604.9 298.3h1.2V310.4h-1.2ZM605.9 290.8h1.2V306.3h-1.2ZM606.9 294.4h1.2V305.6h-1.2ZM607.9 296.9h1.2V309.5h-1.2ZM608.9 298.8h1.2V309.9h-1.2ZM609.9 296.6h1.2V307.7h-1.2ZM610.9 293.5h1.2V302.9h-1.2ZM611.9 290.7h1.2V303.8h-1.2ZM612.9 291.3h1.2V306.5h-1.2ZM613.9 296.0h1.2V305.6h-1.2ZM614.9 295.8h1.2V306.6h-1.2ZM615.9 294.2h1.2V304.7h-1.2ZM616.9 291.3h1.2V308.0h-1.2ZM617.9 295.8h1.2V305.6h-1.2ZM618.9 286.0h1.2V301.7h-1.2ZM619.9 291.2h1.2V299.3h-1.2ZM620.9 290.8h1.2V305.8h-1.2ZM621.9 291.9h1.2V302.2h-1.2ZM622.9 291.6h1.2V299.4h-1.2ZM623.9 290.7h1.2V307.6h-1.2ZM624.9 290.4h1.2V302.3h-1.2ZM625.9 291.6h1.2V301.4h-1.2ZM626.9 292.1h1.2V301.9h-1.2ZM627.9 292.2h1.2V305.3h-1.2ZM628.9 288.7h1.2V300.0h-1.2ZM629.9 282.1h1.2V297.4h-1.2ZM630.9 288.7h1.2V301.5h-1.2ZM631.9 287.3h1.2V297.9h-1.2ZM632.9 289.8h1.2V298.0h-1.2ZM633.9 292.5h1.2V302.5h-1.2ZM634.9 289.8h1.2V300.7h-1.2ZM635.9 288.9h1.2V296.3h-1.2ZM636.9 288.5h1.2V297.3h-1.2ZM637.9 285.5h1.2V304.8h-1.2ZM638.9 288.9h1.2V296.5h-1.2ZM639.9 289.5h1.2V301.1h-1.2ZM640.9 290.3h1.2V300.0h-1.2ZM641.9 289.0h1.2V296.5h-1.2ZM642.9 288.3h1.2V305.3h-1.2ZM643.9 287.1h1.2V296.8h-1.2ZM644.9 289.7h1.2V296.4h-1.2ZM645.9 285.4h1.2V295.8h-1.2ZM646.9 286.5h1.2V297.0h-1.2ZM647.9 285.5h1.2V296.8h-1.2ZM648.9 286.0h1.2V297.1h-1.2ZM649.9 291.2h1.2V297.5h-1.2ZM650.9 291.3h1.2V302.1h-1.2ZM651.9 285.5h1.2V296.9h-1.2ZM652.9 285.9h1.2V296.5h-1.2ZM653.9 280.2h1.2V296.9h-1.2ZM654.9 290.8h1.2V300.7h-1.2ZM655.9 284.4h1.2V307.2h-1.2ZM656.9 288.4h1.2V297.5h-1.2ZM657.9 289.7h1.2V301.2h-1.2ZM658.9 290.3h1.2V298.4h-1.2ZM659.9 291.2h1.2V301.6h-1.2ZM660.9 287.6h1.2V299.6h-1.2ZM661.9 291.1h1.2V298.9h-1.2ZM662.9 288.1h1.2V298.3h-1.2ZM663.9 291.4h1.2V301.0h-1.2ZM664.9 292.8h1.2V302.2h-1.2ZM665.9 283.1h1.2V300.3h-1.2ZM666.9 291.8h1.2V302.2h-1.2ZM667.9 291.1h1.2V305.6h-1.2ZM668.9 292.0h1.2V300.2h-1.2ZM669.9 293.3h1.2V299.3h-1.2ZM670.9 294.4h1.2V302.1h-1.2ZM671.9 290.6h1.2V299.1h-1.2ZM672.9 289.9h1.2V298.5h-1.2ZM673.9 286.6h1.2V298.7h-1.2ZM674.9 283.1h1.2V294.7h-1.2ZM675.9 288.2h1.2V295.1h-1.2ZM676.9 288.0h1.2V297.9h-1.2ZM677.9 289.6h1.2V297.6h-1.2ZM678.9 289.3h1.2V297.6h-1.2ZM679.9 286.7h1.2V297.5h-1.2ZM680.9 288.4h1.2V295.5h-1.2ZM681.9 288.6h1.2V298.0h-1.2ZM682.9 291.9h1.2V308.5h-1.2ZM683.9 294.9h1.2V305.7h-1.2ZM684.9 294.9h1.2V306.0h-1.2ZM685.9 295.3h1.2V307.2h-1.2ZM686.9 296.9h1.2V306.8h-1.2ZM687.9 294.4h1.2V306.1h-1.2ZM688.9 291.6h1.2V304.3h-1.2ZM689.9 296.1h1.2V304.3h-1.2ZM690.9 294.1h1.2V312.7h-1.2ZM691.9 295.5h1.2V306.0h-1.2ZM692.9 295.1h1.2V306.6h-1.2ZM693.9 292.9h1.2V305.3h-1.2ZM694.9 291.3h1.2V304.5h-1.2ZM695.9 292.0h1.2V301.8h-1.2ZM696.9 293.9h1.2V304.7h-1.2ZM697.9 294.1h1.2V303.2h-1.2ZM698.9 290.7h1.2V303.7h-1.2ZM699.9 287.2h1.2V303.4h-1.2ZM700.9 295.1h1.2V304.7h-1.2ZM701.9 293.9h1.2V304.6h-1.2ZM702.9 294.8h1.2V306.1h-1.2ZM703.9 292.3h1.2V303.7h-1.2ZM704.9 294.2h1.2V304.2h-1.2ZM705.9 293.4h1.2V305.5h-1.2ZM706.9 294.5h1.2V305.4h-1.2ZM707.9 295.9h1.2V304.5h-1.2ZM708.9 295.3h1.2V314.2h-1.2ZM709.9 295.9h1.2V313.5h-1.2ZM710.9 295.1h1.2V304.2h-1.2ZM711.9 293.1h1.2V307.6h-1.2ZM712.9 294.1h1.2V303.1h-1.2ZM713.9 293.7h1.2V302.9h-1.2ZM714.9 293.4h1.2V302.2h-1.2ZM715.9 293.0h1.2V310.8h-1.2ZM716.9 294.0h1.2V304.8h-1.2ZM717.9 296.5h1.2V312.6h-1.2ZM718.9 295.5h1.2V306.5h-1.2ZM719.9 297.2h1.2V308.4h-1.2ZM720.9 293.8h1.2V312.0h-1.2ZM721.9 291.2h1.2V308.7h-1.2ZM722.9 297.4h1.2V310.2h-1.2ZM723.9 298.8h1.2V307.8h-1.2ZM724.9 292.3h1.2V308.7h-1.2ZM725.9 297.3h1.2V308.1h-1.2ZM726.9 288.8h1.2V307.6h-1.2ZM727.9 293.5h1.2V304.3h-1.2ZM728.9 296.6h1.2V308.6h-1.2ZM729.9 298.3h1.2V307.0h-1.2ZM730.9 295.6h1.2V305.2h-1.2ZM731.9 294.2h1.2V304.6h-1.2ZM732.9 294.6h1.2V310.1h-1.2ZM733.9 294.4h1.2V312.8h-1.2ZM734.9 293.4h1.2V308.5h-1.2ZM735.9 296.8h1.2V315.4h-1.2ZM736.9 300.6h1.2V318.0h-1.2ZM737.9 299.8h1.2V311.1h-1.2ZM738.9 292.2h1.2V308.5h-1.2ZM739.9 296.9h1.2V313.3h-1.2ZM740.9 294.0h1.2V305.1h-1.2ZM741.9 293.9h1.2V305.8h-1.2ZM742.9 285.2h1.2V304.2h-1.2ZM743.9 294.0h1.2V303.9h-1.2ZM744.9 294.1h1.2V305.0h-1.2ZM745.9 294.1h1.2V302.8h-1.2ZM746.9 296.7h1.2V308.0h-1.2ZM747.9 293.8h1.2V304.9h-1.2ZM748.9 295.3h1.2V304.2h-1.2ZM749.9 297.0h1.2V307.0h-1.2ZM750.9 295.2h1.2V305.8h-1.2ZM751.9 300.2h1.2V310.3h-1.2ZM752.9 295.1h1.2V317.8h-1.2ZM753.9 295.9h1.2V305.2h-1.2ZM754.9 297.6h1.2V306.9h-1.2ZM755.9 294.9h1.2V307.9h-1.2ZM756.9 293.8h1.2V306.7h-1.2ZM757.9 295.7h1.2V306.5h-1.2ZM758.9 291.0h1.2V302.9h-1.2ZM759.9 291.8h1.2V303.0h-1.2ZM760.9 293.9h1.2V308.2h-1.2ZM761.9 292.8h1.2V307.3h-1.2ZM762.9 296.3h1.2V310.2h-1.2ZM763.9 298.5h1.2V310.6h-1.2ZM764.9 297.6h1.2V308.1h-1.2ZM765.9 297.4h1.2V310.0h-1.2ZM766.9 289.6h1.2V310.0h-1.2ZM767.9 296.6h1.2V316.5h-1.2ZM768.9 295.7h1.2V307.1h-1.2ZM769.9 294.4h1.2V304.0h-1.2ZM770.9 295.1h1.2V304.0h-1.2ZM771.9 293.0h1.2V306.9h-1.2ZM772.9 289.9h1.2V301.6h-1.2ZM773.9 292.3h1.2V304.4h-1.2ZM774.9 290.8h1.2V304.6h-1.2ZM775.9 288.2h1.2V303.3h-1.2ZM776.9 292.8h1.2V305.6h-1.2ZM777.9 290.5h1.2V304.0h-1.2ZM778.9 284.4h1.2V305.7h-1.2ZM779.9 296.4h1.2V308.1h-1.2ZM780.9 294.9h1.2V309.1h-1.2ZM781.9 299.9h1.2V310.9h-1.2ZM782.9 295.9h1.2V310.3h-1.2ZM783.9 295.0h1.2V304.1h-1.2ZM784.9 286.8h1.2V304.3h-1.2ZM785.9 294.4h1.2V306.1h-1.2ZM786.9 291.0h1.2V305.3h-1.2ZM787.9 290.7h1.2V305.2h-1.2ZM788.9 291.0h1.2V304.2h-1.2ZM789.9 289.9h1.2V303.1h-1.2ZM790.9 289.9h1.2V298.5h-1.2ZM791.9 290.2h1.2V302.3h-1.2ZM792.9 287.8h1.2V302.2h-1.2ZM793.9 289.0h1.2V301.5h-1.2ZM794.9 289.9h1.2V303.4h-1.2ZM795.9 289.1h1.2V301.5h-1.2ZM796.9 293.2h1.2V303.0h-1.2ZM797.9 291.0h1.2V310.6h-1.2ZM798.9 293.1h1.2V305.8h-1.2ZM799.9 290.5h1.2V303.2h-1.2ZM800.9 294.7h1.2V303.4h-1.2ZM801.9 293.2h1.2V306.5h-1.2ZM802.9 296.1h1.2V306.2h-1.2ZM803.9 292.3h1.2V305.3h-1.2ZM804.9 292.4h1.2V306.7h-1.2ZM805.9 297.1h1.2V309.4h-1.2ZM806.9 294.9h1.2V308.9h-1.2ZM807.9 296.0h1.2V308.3h-1.2ZM808.9 296.7h1.2V310.0h-1.2ZM809.9 297.9h1.2V317.3h-1.2ZM810.9 301.0h1.2V317.3h-1.2ZM811.9 300.4h1.2V320.9h-1.2ZM812.9 302.2h1.2V311.7h-1.2ZM813.9 297.5h1.2V317.2h-1.2ZM814.9 296.4h1.2V306.9h-1.2ZM815.9 297.0h1.2V308.1h-1.2ZM816.9 297.2h1.2V312.3h-1.2ZM817.9 298.7h1.2V308.5h-1.2ZM818.9 296.3h1.2V307.7h-1.2ZM819.9 297.4h1.2V311.8h-1.2ZM820.9 296.5h1.2V305.8h-1.2ZM821.9 297.6h1.2V307.8h-1.2ZM822.9 297.6h1.2V308.3h-1.2ZM823.9 294.0h1.2V304.6h-1.2ZM824.9 294.1h1.2V308.2h-1.2ZM825.9 296.4h1.2V315.2h-1.2ZM826.9 297.8h1.2V308.3h-1.2ZM827.9 293.4h1.2V308.9h-1.2ZM828.9 296.4h1.2V311.2h-1.2ZM829.9 301.5h1.2V314.4h-1.2ZM830.9 292.9h1.2V309.9h-1.2ZM831.9 299.8h1.2V307.6h-1.2ZM832.9 298.6h1.2V311.3h-1.2ZM833.9 296.7h1.2V311.0h-1.2ZM834.9 302.6h1.2V312.8h-1.2ZM835.9 291.8h1.2V308.9h-1.2ZM836.9 299.8h1.2V311.1h-1.2ZM837.9 301.9h1.2V310.5h-1.2ZM838.9 299.6h1.2V310.5h-1.2ZM839.9 295.2h1.2V310.6h-1.2ZM840.9 298.7h1.2V309.2h-1.2ZM841.9 300.7h1.2V315.4h-1.2ZM842.9 302.5h1.2V311.6h-1.2ZM843.9 291.1h1.2V310.3h-1.2ZM844.9 300.7h1.2V308.4h-1.2ZM845.9 297.8h1.2V310.8h-1.2ZM846.9 290.4h1.2V309.5h-1.2ZM847.9 295.1h1.2V313.5h-1.2ZM848.9 296.8h1.2V307.1h-1.2ZM849.9 300.0h1.2V311.2h-1.2ZM850.9 299.7h1.2V308.6h-1.2ZM851.9 294.5h1.2V304.2h-1.2ZM852.9 297.4h1.2V307.0h-1.2ZM853.9 292.4h1.2V312.5h-1.2ZM854.9 295.2h1.2V305.5h-1.2ZM855.9 299.6h1.2V309.1h-1.2ZM856.9 297.6h1.2V304.8h-1.2ZM857.9 296.5h1.2V306.5h-1.2ZM858.9 297.6h1.2V310.3h-1.2ZM859.9 301.5h1.2V310.8h-1.2ZM860.9 302.5h1.2V313.5h-1.2ZM861.9 300.4h1.2V314.7h-1.2ZM862.9 301.0h1.2V313.9h-1.2ZM863.9 302.5h1.2V313.0h-1.2ZM864.9 301.6h1.2V312.6h-1.2ZM865.9 300.4h1.2V313.5h-1.2ZM866.9 297.9h1.2V308.9h-1.2ZM867.9 297.4h1.2V308.3h-1.2ZM868.9 297.6h1.2V309.4h-1.2ZM869.9 303.1h1.2V310.6h-1.2ZM870.9 299.8h1.2V310.0h-1.2ZM871.9 297.7h1.2V309.6h-1.2ZM872.9 298.4h1.2V305.8h-1.2ZM873.9 294.6h1.2V307.4h-1.2ZM874.9 294.2h1.2V311.3h-1.2ZM875.9 297.4h1.2V306.1h-1.2ZM876.9 290.1h1.2V304.3h-1.2ZM877.9 288.2h1.2V307.9h-1.2ZM878.9 300.4h1.2V310.1h-1.2ZM879.9 296.0h1.2V309.3h-1.2ZM880.9 297.6h1.2V308.8h-1.2ZM881.9 298.3h1.2V308.9h-1.2ZM882.9 290.4h1.2V305.8h-1.2ZM883.9 300.2h1.2V310.8h-1.2ZM884.9 299.0h1.2V308.7h-1.2ZM885.9 300.7h1.2V309.5h-1.2ZM886.9 299.5h1.2V308.0h-1.2ZM887.9 296.9h1.2V306.7h-1.2ZM888.9 299.1h1.2V307.1h-1.2ZM889.9 300.1h1.2V307.0h-1.2ZM890.9 293.2h1.2V305.9h-1.2ZM891.9 299.3h1.2V308.0h-1.2ZM892.9 298.3h1.2V311.7h-1.2ZM893.9 301.6h1.2V310.8h-1.2ZM894.9 301.7h1.2V309.3h-1.2ZM895.9 302.6h1.2V311.0h-1.2ZM896.9 302.0h1.2V310.2h-1.2ZM897.9 301.6h1.2V315.9h-1.2ZM898.9 300.5h1.2V309.9h-1.2ZM899.9 302.6h1.2V312.8h-1.2ZM900.9 303.0h1.2V314.6h-1.2ZM901.9 300.8h1.2V316.4h-1.2ZM902.9 301.6h1.2V311.9h-1.2ZM903.9 299.0h1.2V308.3h-1.2ZM904.9 299.5h1.2V312.0h-1.2ZM905.9 301.3h1.2V312.1h-1.2ZM906.9 300.9h1.2V312.4h-1.2ZM907.9 298.2h1.2V307.7h-1.2ZM908.9 302.7h1.2V311.8h-1.2ZM909.9 299.8h1.2V310.0h-1.2ZM910.9 304.2h1.2V312.0h-1.2ZM911.9 306.0h1.2V313.8h-1.2ZM912.9 303.5h1.2V315.8h-1.2ZM913.9 305.8h1.2V326.8h-1.2ZM914.9 304.2h1.2V312.2h-1.2ZM915.9 303.9h1.2V314.7h-1.2ZM916.9 303.6h1.2V313.1h-1.2ZM917.9 302.2h1.2V316.4h-1.2ZM918.9 299.1h1.2V312.3h-1.2ZM919.9 300.6h1.2V310.0h-1.2ZM920.9 296.2h1.2V309.1h-1.2ZM921.9 301.3h1.2V310.3h-1.2ZM922.9 301.3h1.2V313.3h-1.2ZM923.9 297.5h1.2V309.6h-1.2ZM924.9 302.7h1.2V314.0h-1.2ZM925.9 304.3h1.2V312.8h-1.2ZM926.9 301.5h1.2V317.7h-1.2ZM927.9 301.7h1.2V312.9h-1.2ZM928.9 300.1h1.2V309.4h-1.2ZM929.9 297.2h1.2V312.1h-1.2ZM930.9 299.1h1.2V313.8h-1.2ZM931.9 300.1h1.2V312.1h-1.2ZM932.9 294.0h1.2V311.4h-1.2ZM933.9 301.6h1.2V309.1h-1.2Z" fill="#00ff00" stroke="#00ff00" stroke-width="0.6" stroke-linejoin="round"/>
<rect x="110" y="121" width="1.6" height="62" fill="#00ff00"/><rect x="111" y="146" width="7" height="40" fill="#00ff00"/>
<line x1="477.8" y1="186" x2="477.8" y2="253.42000000000002" stroke="#00ff00" stroke-width="2.5"/>
<line x1="481" y1="200" x2="481" y2="256.125" stroke="#00ff00" stroke-width="2"/>
<line x1="485.5" y1="200" x2="485.5" y2="260.0625" stroke="#00ff00" stroke-width="2"/>
<line x1="538.5" y1="210" x2="538.5" y2="281.0" stroke="#00ff00" stroke-width="2"/>
<line x1="155" y1="199" x2="155" y2="219.5" stroke="#00ff00" stroke-width="2"/>
<line x1="208.5" y1="141" x2="208.5" y2="283.4583333333333" stroke="#00ff00" stroke-width="2"/>
<line x1="214.5" y1="222" x2="214.5" y2="285.9583333333333" stroke="#00ff00" stroke-width="2"/>
<line x1="233" y1="202" x2="233" y2="285.79999999999995" stroke="#00ff00" stroke-width="2"/>
<line x1="239.7" y1="250" x2="239.7" y2="283.12" stroke="#00ff00" stroke-width="2"/>
<line x1="258" y1="211" x2="258" y2="280.4" stroke="#00ff00" stroke-width="2"/>
<line x1="282.5" y1="255" x2="282.5" y2="283.5" stroke="#00ff00" stroke-width="2"/>
<line x1="457" y1="215" x2="457" y2="243.875" stroke="#00ff00" stroke-width="2"/>
<line x1="472" y1="225" x2="472" y2="252.25" stroke="#00ff00" stroke-width="2"/>
<line x1="479.6" y1="154.5" x2="479.6" y2="254.9" stroke="#00ff00" stroke-width="2"/>
<line x1="487.6" y1="149" x2="487.6" y2="260.5" stroke="#00ff00" stroke-width="2"/>
<line x1="490.6" y1="170.5" x2="490.6" y2="260.5" stroke="#00ff00" stroke-width="2"/>
<line x1="494" y1="239.5" x2="494" y2="260.5" stroke="#00ff00" stroke-width="2"/>
<line x1="505.5" y1="194" x2="505.5" y2="279.0" stroke="#00ff00" stroke-width="2"/>
<line x1="511.8" y1="228" x2="511.8" y2="279.0" stroke="#00ff00" stroke-width="2"/>
<line x1="515" y1="256" x2="515" y2="279.0" stroke="#00ff00" stroke-width="2"/>
<line x1="522" y1="241.6" x2="522" y2="268.5" stroke="#00ff00" stroke-width="2"/>
<line x1="526" y1="209" x2="526" y2="274.75" stroke="#00ff00" stroke-width="2"/>
<line x1="537" y1="203" x2="537" y2="281.0" stroke="#00ff00" stroke-width="2"/>
<line x1="545" y1="180" x2="545" y2="281.0" stroke="#00ff00" stroke-width="2"/>
<line x1="550" y1="260" x2="550" y2="285.25" stroke="#00ff00" stroke-width="2"/>
<line x1="574" y1="277" x2="574" y2="297.5" stroke="#00ff00" stroke-width="2"/>
<line x1="596" y1="281" x2="596" y2="297.5" stroke="#00ff00" stroke-width="2"/>
<line x1="625.5" y1="279" x2="625.5" y2="294.31666666666666" stroke="#00ff00" stroke-width="2"/>
<line x1="652.8" y1="278" x2="652.8" y2="293.54516129032254" stroke="#00ff00" stroke-width="2"/>
<line x1="675.3" y1="277" x2="675.3" y2="293.908064516129" stroke="#00ff00" stroke-width="2"/>
<line x1="734.8" y1="284" x2="734.8" y2="298.88518518518515" stroke="#00ff00" stroke-width="2"/>
<circle cx="208.6" cy="141.2" r="17" fill="none" stroke="#8c8cf0" stroke-width="1.4"/>
<line x1="211.1" y1="143.7" x2="215.1" y2="147.7" stroke="#8c8cf0" stroke-width="1.2"/>
<line x1="211.1" y1="138.7" x2="215.1" y2="134.7" stroke="#8c8cf0" stroke-width="1.2"/>
<line x1="206.1" y1="143.7" x2="202.1" y2="147.7" stroke="#8c8cf0" stroke-width="1.2"/>
<line x1="206.1" y1="138.7" x2="202.1" y2="134.7" stroke="#8c8cf0" stroke-width="1.2"/>
<circle cx="233" cy="202.3" r="17" fill="none" stroke="#8c8cf0" stroke-width="1.4"/>
<line x1="235.5" y1="204.8" x2="239.5" y2="208.8" stroke="#8c8cf0" stroke-width="1.2"/>
<line x1="235.5" y1="199.8" x2="239.5" y2="195.8" stroke="#8c8cf0" stroke-width="1.2"/>
<line x1="230.5" y1="204.8" x2="226.5" y2="208.8" stroke="#8c8cf0" stroke-width="1.2"/>
<line x1="230.5" y1="199.8" x2="226.5" y2="195.8" stroke="#8c8cf0" stroke-width="1.2"/>
<circle cx="258.1" cy="211" r="17" fill="none" stroke="#8c8cf0" stroke-width="1.4"/>
<line x1="260.6" y1="213.5" x2="264.6" y2="217.5" stroke="#8c8cf0" stroke-width="1.2"/>
<line x1="260.6" y1="208.5" x2="264.6" y2="204.5" stroke="#8c8cf0" stroke-width="1.2"/>
<line x1="255.60000000000002" y1="213.5" x2="251.60000000000002" y2="217.5" stroke="#8c8cf0" stroke-width="1.2"/>
<line x1="255.60000000000002" y1="208.5" x2="251.60000000000002" y2="204.5" stroke="#8c8cf0" stroke-width="1.2"/>
<circle cx="479.6" cy="154.5" r="17" fill="none" stroke="#8c8cf0" stroke-width="1.4"/>
<line x1="482.1" y1="157.0" x2="486.1" y2="161.0" stroke="#8c8cf0" stroke-width="1.2"/>
<line x1="482.1" y1="152.0" x2="486.1" y2="148.0" stroke="#8c8cf0" stroke-width="1.2"/>
<line x1="477.1" y1="157.0" x2="473.1" y2="161.0" stroke="#8c8cf0" stroke-width="1.2"/>
<line x1="477.1" y1="152.0" x2="473.1" y2="148.0" stroke="#8c8cf0" stroke-width="1.2"/>
<circle cx="487.6" cy="136" r="17" fill="none" stroke="#8c8cf0" stroke-width="1.4"/>
<line x1="490.1" y1="138.5" x2="494.1" y2="142.5" stroke="#8c8cf0" stroke-width="1.2"/>
<line x1="490.1" y1="133.5" x2="494.1" y2="129.5" stroke="#8c8cf0" stroke-width="1.2"/>
<line x1="485.1" y1="138.5" x2="481.1" y2="142.5" stroke="#8c8cf0" stroke-width="1.2"/>
<line x1="485.1" y1="133.5" x2="481.1" y2="129.5" stroke="#8c8cf0" stroke-width="1.2"/>
<circle cx="490.2" cy="170.5" r="17" fill="none" stroke="#8c8cf0" stroke-width="1.4"/>
<line x1="492.7" y1="173.0" x2="496.7" y2="177.0" stroke="#8c8cf0" stroke-width="1.2"/>
<line x1="492.7" y1="168.0" x2="496.7" y2="164.0" stroke="#8c8cf0" stroke-width="1.2"/>
<line x1="487.7" y1="173.0" x2="483.7" y2="177.0" stroke="#8c8cf0" stroke-width="1.2"/>
<line x1="487.7" y1="168.0" x2="483.7" y2="164.0" stroke="#8c8cf0" stroke-width="1.2"/>
<circle cx="505.5" cy="193.8" r="17" fill="none" stroke="#8c8cf0" stroke-width="1.4"/>
<line x1="508.0" y1="196.3" x2="512.0" y2="200.3" stroke="#8c8cf0" stroke-width="1.2"/>
<line x1="508.0" y1="191.3" x2="512.0" y2="187.3" stroke="#8c8cf0" stroke-width="1.2"/>
<line x1="503.0" y1="196.3" x2="499.0" y2="200.3" stroke="#8c8cf0" stroke-width="1.2"/>
<line x1="503.0" y1="191.3" x2="499.0" y2="187.3" stroke="#8c8cf0" stroke-width="1.2"/>
<circle cx="536.7" cy="203.2" r="17" fill="none" stroke="#8c8cf0" stroke-width="1.4"/>
<line x1="539.2" y1="205.7" x2="543.2" y2="209.7" stroke="#8c8cf0" stroke-width="1.2"/>
<line x1="539.2" y1="200.7" x2="543.2" y2="196.7" stroke="#8c8cf0" stroke-width="1.2"/>
<line x1="534.2" y1="205.7" x2="530.2" y2="209.7" stroke="#8c8cf0" stroke-width="1.2"/>
<line x1="534.2" y1="200.7" x2="530.2" y2="196.7" stroke="#8c8cf0" stroke-width="1.2"/>
<circle cx="546" cy="180.3" r="17" fill="none" stroke="#8c8cf0" stroke-width="1.4"/>
<line x1="548.5" y1="182.8" x2="552.5" y2="186.8" stroke="#8c8cf0" stroke-width="1.2"/>
<line x1="548.5" y1="177.8" x2="552.5" y2="173.8" stroke="#8c8cf0" stroke-width="1.2"/>
<line x1="543.5" y1="182.8" x2="539.5" y2="186.8" stroke="#8c8cf0" stroke-width="1.2"/>
<line x1="543.5" y1="177.8" x2="539.5" y2="173.8" stroke="#8c8cf0" stroke-width="1.2"/>
<g font-size="20.2" fill="#fff" stroke="#fff" stroke-width="0.3">
<text x="0" y="0" transform="translate(206.6,125.69999999999999) rotate(-20.5) scale(1.09,1)">1 : 24.00 MHz</text>
<text x="0" y="0" transform="translate(231,186.8) rotate(-20.5) scale(1.09,1)">2 : 30.01 MHz</text>
<text x="0" y="0" transform="translate(256.1,195.5) rotate(-20.5) scale(1.09,1)">3 : 36.01 MHz</text>
<text x="0" y="0" transform="translate(477.6,139.0) rotate(-20.5) scale(1.09,1)">4 : 89.70 MHz</text>
<text x="0" y="0" transform="translate(485.6,120.5) rotate(-20.5) scale(1.09,1)">5 : 91.49 MHz</text>
<text x="0" y="0" transform="translate(488.2,155.0) rotate(-20.5) scale(1.09,1)">6 : 92.50 MHz</text>
<text x="0" y="0" transform="translate(503.5,178.3) rotate(-20.5) scale(1.09,1)">7 : 99.71 MHz</text>
<text x="0" y="0" transform="translate(534.7,187.7) rotate(-20.5) scale(1.09,1)">8 : 103.50 MHz</text>
<text x="0" y="0" transform="translate(544,164.8) rotate(-20.5) scale(1.09,1)">9 : 105.50 MHz</text>
</g>
</svg>
</body></html>
